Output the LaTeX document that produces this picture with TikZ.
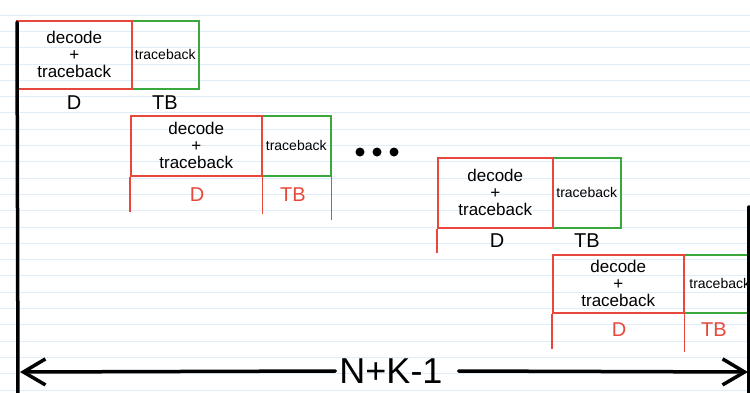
\documentclass[tikz,border=0pt]{standalone}
\usepackage{fontspec}
\setmainfont{Liberation Sans}
\usetikzlibrary{arrows.meta}
\definecolor{redline}{RGB}{232,72,60}
\definecolor{greenline}{RGB}{58,168,58}
\definecolor{ruleblue}{RGB}{224,236,248}
\begin{document}
\begin{tikzpicture}[x=1pt,y=-1pt,
  redbox/.style={draw=redline, line width=1.5pt, rectangle, anchor=north west, inner sep=0pt, align=center, font=\fontsize{17}{17}\selectfont},
  greenbox/.style={draw=greenline, line width=1.5pt, rectangle, anchor=north west, inner sep=0pt, align=center, font=\fontsize{14}{16}\selectfont},
  lab/.style={inner sep=0pt, font=\fontsize{20}{22}\selectfont},
  redlab/.style={lab, text=redline},
  tickline/.style={draw=redline, line width=1.2pt},
  heavy/.style={line width=3.5pt, line cap=round},
  dotnode/.style={circle, fill=black, inner sep=0pt, minimum size=9pt}
]
\useasboundingbox (0,0) rectangle (750,392);
\fill[white] (0,0) rectangle (750,392);
\foreach \k in {0,...,23} \draw[ruleblue, line width=0.8pt] (0,{15+16.3*\k}) -- (750,{15+16.3*\k});

% block 1
\node[greenbox, minimum width=67pt, minimum height=68pt] (t1) at (131,20) {traceback};
\node[redbox, minimum width=115pt, minimum height=68pt] (d1) at (16,20) {decode\\+\\traceback};
\node[lab] (D1) at (74,103) {D};
\node[lab] (TB1) at (165,103) {TB};

% block 2
\node[greenbox, minimum width=69pt, minimum height=60pt] (t2) at (261,115) {traceback};
\node[redbox, minimum width=131pt, minimum height=60pt] (d2) at (130,115) {decode\\+\\traceback};
\draw[tickline] (d2.south west) -- ++(0,35);
\draw[tickline] (d2.south east) -- ++(0,37);
\draw[tickline] (t2.south east) -- ++(0,43);
\node[redlab] (D2) at (197,195) {D};
\node[redlab] (TB2) at (293,195) {TB};

% dots
\node[dotnode] (dot1) at (360,152) {};
\node[dotnode] (dot2) at (377,152) {};
\node[dotnode] (dot3) at (394,152) {};

% block 3
\node[greenbox, minimum width=68pt, minimum height=70pt] (t3) at (552,157) {traceback};
\node[redbox, minimum width=115pt, minimum height=70pt] (d3) at (437,157) {decode\\+\\traceback};
\draw[tickline] (d3.south west) -- ++(0,24);
\node[lab] (D3) at (497,241) {D};
\node[lab] (TB3) at (587,241) {TB};

% block 4
\node[greenbox, minimum width=72pt, minimum height=58pt] (t4) at (683,254) {traceback};
\node[redbox, minimum width=131pt, minimum height=58pt] (d4) at (552,254) {decode\\+\\traceback};
\draw[tickline] (d4.south west) -- ++(0,35);
\draw[tickline] (d4.south east) -- ++(0,38);
\node[redlab] (D4) at (619,330) {D};
\node[redlab] (TB4) at (714,330) {TB};

% axes
\coordinate (lt) at (17,22);
\coordinate (lb) at (18,394);
\draw[heavy] (lt) -- (lb);
\coordinate (rt) at (749,207);
\coordinate (rb) at (749,394);
\draw[heavy] (rt) -- (rb);

% span arrow
\node[inner sep=0pt, font=\fontsize{36}{36}\selectfont] (n) at (391,371) {N+K-1};
\coordinate (al) at (20,372);
\coordinate (ar) at (748,372);
\draw[heavy, -{Straight Barb[length=22pt,width=26pt,line width=3.5pt]}] ([xshift=-4pt]n.west) -- (al);
\draw[heavy, -{Straight Barb[length=22pt,width=26pt,line width=3.5pt]}] ([xshift=16pt]n.east) -- (ar);
\end{tikzpicture}
\end{document}
